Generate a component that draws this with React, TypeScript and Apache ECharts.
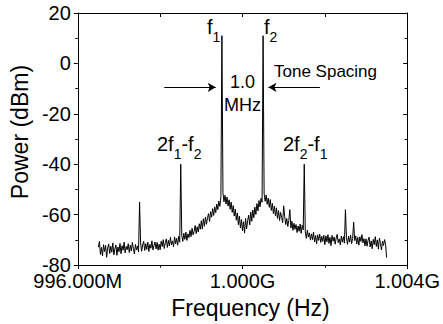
import React, { useEffect, useRef } from "react";
import * as echarts from "echarts";

// Sweep: first sample frequency and spacing of samples (MHz)
const freqStartMHz = 996.5;
const freqStepMHz = 0.025;

const powerDbm: number[] = [
  // 996.500 - 996.975
  -72.9, -70.6, -75.8, -73.0, -76.4, -71.9, -74.6, -72.2, -76.9, -73.3,
  -71.6, -75.4, -72.5, -74.9, -71.2, -75.9, -73.6, -72.0, -76.1, -72.8,
  // 997.000 - 997.475
  -74.7, -71.4, -75.5, -72.3, -74.1, -70.9, -75.2, -72.6, -73.9, -71.5,
  -75.0, -72.1, -74.4, -71.0, -73.5, -75.6, -71.8, -74.0, -72.4, -74.8,
  // 997.500 spur
  -55.0,
  -71.2, -74.5, -72.0, -70.6, -74.2, -71.5, -73.8, -70.9, -74.6, -71.8,
  -73.3, -70.4, -74.0, -72.2, -70.8, -73.6, -71.0, -74.1, -71.7,
  // 998.000 - 998.475
  -73.9, -70.5, -72.6, -69.9, -73.4, -71.1, -69.6, -73.0, -70.2, -72.4,
  -69.0, -71.9, -70.4, -72.7, -68.8, -71.5, -69.4, -72.1, -68.6, -70.9,
  // 998.500 : 2f1-f2
  -40.0,
  -68.1, -70.6, -67.4, -69.8, -66.9, -70.2, -67.6, -69.1, -66.2, -68.7,
  -65.4, -68.0, -66.6, -64.3, -67.5, -64.8, -66.9, -63.6, -65.8,
  // 999.000 - 999.475
  -62.4, -65.7, -61.6, -64.6, -60.9, -63.8, -61.2, -59.6, -62.7, -58.8,
  -61.0, -57.6, -60.3, -56.9, -59.2, -55.8, -58.0, -54.6, -56.7, -52.9,
  // 999.500 : f1
  11.0,
  -51.2, -54.9, -52.3, -55.8, -53.0, -56.6, -54.1, -57.9, -55.0, -59.1,
  -56.4, -60.5, -57.8, -62.2, -59.3, -64.0, -60.6, -65.3, -61.9,
  // 1000.000 - 1000.475
  -66.4, -62.8, -67.3, -61.5, -65.6, -62.3, -60.2, -64.1, -59.0, -62.6,
  -58.1, -61.2, -57.0, -59.9, -55.6, -58.5, -54.4, -56.9, -53.5, -55.1,
  // 1000.500 : f2
  11.0,
  -51.6, -54.7, -52.2, -55.9, -53.4, -57.1, -54.0, -58.3, -55.5, -59.6,
  -56.6, -60.4, -57.3, -61.5, -58.4, -62.3, -59.1, -61.0, -63.2,
  // 1001.000 - 1001.475
  -56.5,
  -60.8, -63.9, -61.5, -64.7, -62.2, -58.0, -65.3, -62.6, -66.2, -63.4,
  -65.8, -63.9, -67.1, -64.5, -66.6, -63.7, -67.4, -64.2, -66.0,
  // 1001.500 : 2f2-f1
  -40.0,
  -66.8, -69.4, -66.1, -68.9, -67.2, -70.1, -67.6, -69.9, -66.9, -70.8,
  -68.3, -71.5, -68.0, -70.2, -67.7, -71.0, -68.6, -70.6, -68.2,
  // 1002.000 - 1002.475
  -71.9, -68.4, -70.8, -67.9, -71.4, -69.0, -72.3, -68.2, -70.5, -68.9,
  -71.7, -69.3, -67.8, -71.1, -69.6, -72.0, -68.5, -70.9, -68.7, -71.3,
  // 1002.500 spur
  -58.0,
  -69.2, -71.8, -68.6, -70.9, -68.1, -71.5, -69.4, -63.0, -70.3, -68.4,
  -71.6, -69.0, -72.1, -68.8, -70.6, -67.9, -71.2, -69.5, -72.4,
  // 1003.000 - 1003.475
  -69.6, -72.5, -70.1, -68.9, -72.8, -70.4, -73.5, -69.8, -71.9, -68.7,
  -72.6, -70.0, -73.7, -69.3, -71.4, -74.0, -70.5, -72.2, -69.9, -71.8,
  // 1003.500
  -77.0,
];

// Axis ranges and tick labels
const xMinMHz = 996;
const xMaxMHz = 1004;
const xTickValues = [996, 1000, 1004];
const xTickLabels = ["996.000M", "1.000G", "1.004G"];
const yMin = -80;
const yMax = 20;
const yInterval = 20;

// Tone spacing arrows: [start MHz, tip MHz] at a power level (dBm)
const toneArrowsMHz: [number, number][] = [
  [998.1, 999.35],
  [1001.88, 1000.63],
];
const toneArrowLevelDbm = -9.5;

const FONT = "'Liberation Sans', Arial, Helvetica, sans-serif";

export default function App() {
  const ref = useRef<HTMLDivElement>(null);

  useEffect(() => {
    if (!ref.current) return;
    const chart = echarts.init(ref.current, undefined, { renderer: "svg" });

    const seriesData = powerDbm.map((p, i) => [
      Number((freqStartMHz + i * freqStepMHz).toFixed(3)),
      p,
    ]);

    const sub = {
      m: { fontSize: 20, lineHeight: 20, verticalAlign: "top", color: "#000", fontFamily: FONT },
      s: {
        fontSize: 14,
        lineHeight: 14,
        padding: [13, 0, 0, 0],
        verticalAlign: "top",
        color: "#000",
        fontFamily: FONT,
      },
    };

    const richLabel = (x: number, y: number, text: string) => ({
      type: "text",
      x,
      y,
      silent: true,
      style: {
        text,
        rich: sub,
        align: "left",
        verticalAlign: "top",
        fill: "#000",
        font: `20px ${FONT}`,
      },
    });

    const labelFmt = (v: number) => {
      const idx = xTickValues.indexOf(Math.round(v * 1000) / 1000);
      return idx >= 0 ? xTickLabels[idx] : "";
    };

    const axisLine = { show: true, onZero: false, lineStyle: { color: "#000", width: 1 } };

    chart.setOption({
      animation: false,
      textStyle: { fontFamily: FONT, color: "#000" },
      grid: { left: 76, top: 13, width: 333, height: 254, containLabel: false },
      xAxis: [
        {
          type: "value",
          position: "bottom",
          min: xMinMHz,
          max: xMaxMHz,
          interval: 4,
          axisLine,
          axisTick: { show: true, inside: false, length: 4, lineStyle: { color: "#000" } },
          minorTick: { show: true, splitNumber: 2, length: 2.5, lineStyle: { color: "#000" } },
          splitLine: { show: false },
          minorSplitLine: { show: false },
          axisLabel: {
            formatter: labelFmt,
            fontSize: 20,
            lineHeight: 16,
            color: "#000",
            fontFamily: FONT,
            margin: 8,
          },
          name: "Frequency (Hz)",
          nameLocation: "middle",
          nameGap: 19,
          nameTextStyle: { fontSize: 23, color: "#000", fontFamily: FONT, padding: [0, 0, 0, 16] },
        },
        {
          type: "value",
          position: "top",
          min: xMinMHz,
          max: xMaxMHz,
          interval: 2,
          axisLine,
          axisTick: { show: true, inside: true, length: 4, lineStyle: { color: "#000" } },
          axisLabel: { show: false },
          splitLine: { show: false },
        },
      ],
      yAxis: [
        {
          type: "value",
          position: "left",
          min: yMin,
          max: yMax,
          interval: yInterval,
          axisLine,
          axisTick: { show: true, inside: false, length: 4, lineStyle: { color: "#000" } },
          minorTick: { show: true, splitNumber: 2, length: 2.5, lineStyle: { color: "#000" } },
          splitLine: { show: false },
          minorSplitLine: { show: false },
          axisLabel: { fontSize: 20, lineHeight: 16, color: "#000", fontFamily: FONT, margin: 7 },
          name: "Power (dBm)",
          nameLocation: "middle",
          nameGap: 43,
          nameTextStyle: { fontSize: 23, color: "#000", fontFamily: FONT, padding: [0, 0, 0, 14] },
        },
        {
          type: "value",
          position: "right",
          min: yMin,
          max: yMax,
          interval: yInterval,
          axisLine,
          axisTick: { show: true, inside: true, length: 4, lineStyle: { color: "#000" } },
          minorTick: { show: true, splitNumber: 2, length: 2.5, lineStyle: { color: "#000" } },
          axisLabel: { show: false },
          splitLine: { show: false },
        },
      ],
      series: [
        {
          type: "line",
          xAxisIndex: 0,
          yAxisIndex: 0,
          data: seriesData,
          showSymbol: false,
          symbol: "none",
          lineStyle: { color: "#000", width: 1 },
          silent: true,
          markLine: {
            silent: true,
            symbol: ["none", "arrow"],
            symbolSize: [7, 8],
            label: { show: false },
            lineStyle: { color: "#000", width: 1, type: "solid" },
            emphasis: { disabled: true },
            data: toneArrowsMHz.map(([from, tip]) => [
              { coord: [from, toneArrowLevelDbm] },
              { coord: [tip, toneArrowLevelDbm] },
            ]),
          },
        },
      ],
      graphic: [
        richLabel(207, 17, "{m|f}{s|1}"),
        richLabel(264, 17, "{m|f}{s|2}"),
        richLabel(157, 134, "{m|2f}{s|1}{m|-f}{s|2}"),
        richLabel(283, 134, "{m|2f}{s|2}{m|-f}{s|1}"),
        {
          type: "text",
          x: 242.5,
          y: 71,
          silent: true,
          style: {
            text: "1.0\nMHz",
            align: "center",
            verticalAlign: "top",
            lineHeight: 22.5,
            fill: "#000",
            font: `18px ${FONT}`,
          },
        },
        {
          type: "text",
          x: 274,
          y: 71,
          silent: true,
          style: {
            text: "Tone Spacing",
            align: "left",
            verticalAlign: "middle",
            fill: "#000",
            font: `17px ${FONT}`,
          },
        },
      ],
    });

    return () => chart.dispose();
  }, []);

  return (
    <div
      ref={ref}
      style={{ position: "fixed", left: 0, top: 0, width: 443, height: 324, background: "#fff" }}
    />
  );
}
